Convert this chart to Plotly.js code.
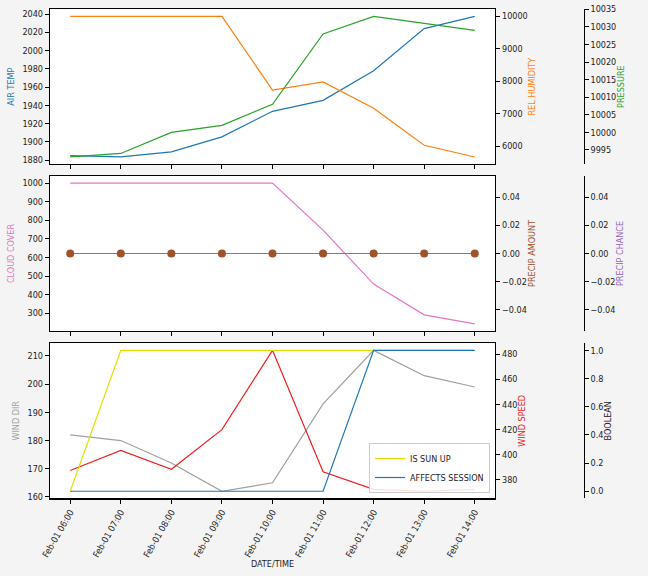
<!DOCTYPE html>
<html>
<head>
<meta charset="utf-8">
<script src="https://cdn.plot.ly/plotly-3.0.1.min.js"></script>
<style>html,body{margin:0;padding:0;background:#f4f4f4;}#chart{width:648px;height:576px;}</style>
</head>
<body>
<div id="chart"></div>
<script>
// ---- data ----
const dates = ['2021-02-01 06:00','2021-02-01 07:00','2021-02-01 08:00','2021-02-01 09:00','2021-02-01 10:00','2021-02-01 11:00','2021-02-01 12:00','2021-02-01 13:00','2021-02-01 14:00'];
const airTemp = [1885, 1883.5, 1889, 1905.5, 1933.5, 1945.5, 1978, 2024, 2037.5];
const relHumidity = [10000, 10000, 10000, 10000, 7730, 7980, 7170, 6030, 5670];
const pressure = [9993, 9994, 10000, 10002, 10008, 10028, 10033, 10031, 10029];
const cloudCover = [1000, 1000, 1000, 1000, 1000, 747, 457, 292, 243];
const precipAmount = [0, 0, 0, 0, 0, 0, 0, 0, 0];
const precipChance = [0, 0, 0, 0, 0, 0, 0, 0, 0];
const windDir = [182, 180, 172, 162, 165, 193, 212, 203, 199];
const windSpeed = [387.5, 403.5, 388.5, 420, 483, 386.5, 372.5, 371, 372.5];
const isSunUp = [0, 1, 1, 1, 1, 1, 1, 1, 1];
const affectsSession = [0, 0, 0, 0, 0, 0, 1, 1, 1];

// ---- helpers ----
function pad(arr){
  let lo = Math.min(...arr), hi = Math.max(...arr);
  if (hi === lo){ lo -= 0.05; hi += 0.05; }
  const r = hi - lo;
  return [lo - 0.05*r, hi + 0.05*r];
}
const ms = dates.map(s => new Date(s.replace(' ','T') + ':00Z').getTime());
const span = ms[ms.length-1] - ms[0];
const xRange = [ms[0] - 0.05*span, ms[ms.length-1] + 0.05*span];

const C = {
  temp:'#1f77b4', hum:'#ff7f0e', pres:'#2ca02c',
  cloud:'#e377c2', pamt:'#a0522d', pch:'#9467bd',
  wdir:'#a0a0a0', wspd:'#ee2020', sun:'#e0e000', aff:'#1f77b4'
};
const FONT = 'DejaVu Sans Condensed, DejaVu Sans, sans-serif';
const FS = 9;
const tickFont = {family: FONT, size: FS, color: '#222'};
const titleFont = (c) => ({family: FONT, size: FS, color: c});

const W = 648, H = 576;
const xDom = [50/W, 495/W];
const freePos = 583.5/W;
const dTop = [1-164/H, 1-9.3/H];
const dMid = [1-331/H, 1-176/H];
const dBot = [1-498.3/H, 1-343.3/H];

function xAxis(showLabels, anchor){
  const a = {
    type:'date', domain:xDom, anchor:anchor, range:xRange,
    showline:true, linecolor:'#000', linewidth:1.2, mirror:true,
    ticks:'outside', ticklen:4, tickcolor:'#000', tickwidth:1,
    dtick:3600000, tick0:ms[0], tickformat:'%b-%d %H:%M',
    tickangle:-60, tickfont:tickFont, showgrid:false, zeroline:false,
    showticklabels:showLabels, automargin:false
  };
  if (showLabels){ a.title = {text:'DATE/TIME', font:titleFont('#222'), standoff:2}; }
  return a;
}
function yAxis(opts){
  return Object.assign({
    showgrid:false, zeroline:false, showline:true, linecolor:'#000', linewidth:1.2,
    ticks:'outside', ticklen:4, tickcolor:'#000', tickwidth:1,
    tickfont:tickFont, automargin:false, exponentformat:'none'
  }, opts);
}

const line = (x, y, xa, ya, color, name, legend) => ({
  type:'scatter', mode:'lines', x:x, y:y, xaxis:xa, yaxis:ya, name:name,
  line:{color:color, width:1.2}, showlegend:!!legend
});

const traces = [
  line(dates, airTemp, 'x', 'y', C.temp, 'AIR TEMP'),
  line(dates, relHumidity, 'x', 'y2', C.hum, 'REL HUMIDITY'),
  line(dates, pressure, 'x', 'y3', C.pres, 'PRESSURE'),
  line(dates, cloudCover, 'x2', 'y4', C.cloud, 'CLOUD COVER'),
  line(dates, precipChance, 'x2', 'y5', C.pch, 'PRECIP CHANCE'),
  {type:'scatter', mode:'markers', x:dates, y:precipAmount, xaxis:'x2', yaxis:'y6', name:'PRECIP AMOUNT',
   marker:{color:C.pamt, size:8}, showlegend:false},
  line(dates, windDir, 'x3', 'y7', C.wdir, 'WIND DIR'),
  line(dates, windSpeed, 'x3', 'y8', C.wspd, 'WIND SPEED'),
  line(dates, isSunUp, 'x3', 'y9', C.sun, 'IS SUN UP', true),
  line(dates, affectsSession, 'x3', 'y9', C.aff, 'AFFECTS SESSION', true)
];

const layout = {
  width:W, height:H, autosize:false,
  margin:{l:0, r:0, t:0, b:0},
  paper_bgcolor:'#f4f4f4', plot_bgcolor:'#ffffff',
  font:{family:FONT, size:FS, color:'#222'},
  showlegend:true,
  legend:{x:490/W, y:1-493/H, xanchor:'right', yanchor:'bottom',
          bgcolor:'rgba(255,255,255,0.85)', bordercolor:'#cccccc', borderwidth:1,
          font:{family:FONT, size:FS, color:'#222'}, tracegroupgap:0,
          itemwidth:30},
  xaxis: xAxis(false, 'y'),
  xaxis2: xAxis(false, 'y4'),
  xaxis3: xAxis(true, 'y7'),
  yaxis: yAxis({domain:dTop, anchor:'x', mirror:true, range:pad(airTemp), dtick:20, tickformat:'d',
                title:{text:'AIR TEMP', font:titleFont(C.temp), standoff:6}}),
  yaxis2: yAxis({overlaying:'y', side:'right', anchor:'x', range:pad(relHumidity), dtick:1000, tickformat:'d',
                title:{text:'REL HUMIDITY', font:titleFont(C.hum), standoff:2}}),
  yaxis3: yAxis({overlaying:'y', side:'right', anchor:'free', position:freePos, range:pad(pressure), dtick:5, tickformat:'d',
                title:{text:'PRESSURE', font:titleFont(C.pres), standoff:2}}),
  yaxis4: yAxis({domain:dMid, anchor:'x2', mirror:true, range:pad(cloudCover), dtick:100, tickformat:'d',
                title:{text:'CLOUD COVER', font:titleFont(C.cloud), standoff:6}}),
  yaxis5: yAxis({overlaying:'y4', side:'right', anchor:'free', position:freePos, range:pad(precipChance), dtick:0.02, tick0:0, tickformat:'.2f',
                title:{text:'PRECIP CHANCE', font:titleFont(C.pch), standoff:2}}),
  yaxis6: yAxis({overlaying:'y4', side:'right', anchor:'x2', range:pad(precipAmount), dtick:0.02, tick0:0, tickformat:'.2f',
                title:{text:'PRECIP AMOUNT', font:titleFont(C.pamt), standoff:2}}),
  yaxis7: yAxis({domain:dBot, anchor:'x3', mirror:true, range:pad(windDir), dtick:10, tickformat:'d',
                title:{text:'WIND DIR', font:titleFont(C.wdir), standoff:6}}),
  yaxis8: yAxis({overlaying:'y7', side:'right', anchor:'x3', range:pad(windSpeed), dtick:20, tickformat:'d',
                title:{text:'WIND SPEED', font:titleFont(C.wspd), standoff:2}}),
  yaxis9: yAxis({overlaying:'y7', side:'right', anchor:'free', position:freePos, range:pad(isSunUp.concat(affectsSession)), dtick:0.2, tick0:0, tickformat:'.1f',
                title:{text:'BOOLEAN', font:titleFont('#222'), standoff:2}})
};

Plotly.newPlot('chart', traces, layout, {staticPlot:true, displayModeBar:false});
</script>
</body>
</html>
